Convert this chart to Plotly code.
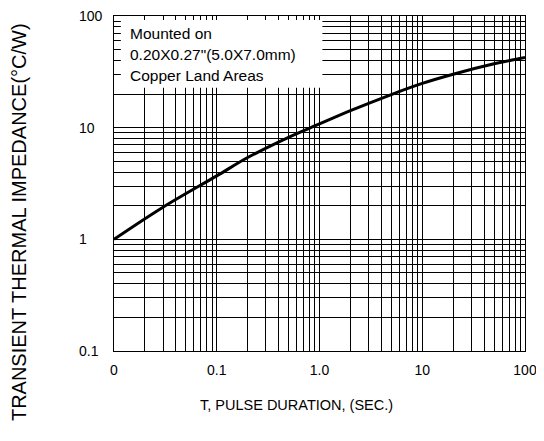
import math
import plotly.graph_objects as go

# Data (transient thermal impedance curve)
pulse_duration = [0.01, 0.03, 0.1, 0.2, 0.5, 1.0, 2.0, 5.0, 10.0, 20.0, 50.0, 100.0]
impedance = [1.0, 1.94, 3.7, 5.4, 8.2, 10.8, 14.2, 19.8, 24.9, 30.1, 37.3, 42.5]

x_tick_vals = [0.01, 0.1, 1.0, 10.0, 100.0]
x_tick_text = ["0", "0.1", "1.0", "10", "100"]
y_tick_vals = [0.1, 1.0, 10.0, 100.0]
y_tick_text = ["0.1", "1", "10", "100"]

box_lines = ["Mounted on", "0.20X0.27\"(5.0X7.0mm)", "Copper Land Areas"]

FONT = "Liberation Sans, Arial, sans-serif"

x_minor = [m * 10.0 ** e for e in range(-2, 2) for m in range(2, 10)]
y_minor = [m * 10.0 ** e for e in range(-1, 2) for m in range(2, 10)]

fig = go.Figure()
fig.add_trace(go.Scatter(
    x=pulse_duration, y=impedance, mode="lines",
    line=dict(color="black", width=3, shape="spline", smoothing=1.0),
    hoverinfo="skip", showlegend=False,
))

axis_common = dict(
    type="log", showline=True, linecolor="black", linewidth=1, mirror="ticks",
    ticks="inside", ticklen=6, tickcolor="black",
    showgrid=True, gridcolor="black", gridwidth=1, zeroline=False,
)

fig.update_xaxes(
    **axis_common,
    range=[-2, 2], tickvals=x_tick_vals, ticktext=x_tick_text,
    tickfont=dict(family=FONT, size=14, color="black"),
    ticklabelstandoff=6,
    minor=dict(tickvals=x_minor, showgrid=True, gridcolor="black", gridwidth=1,
               ticks="inside", ticklen=6, tickcolor="black"),
)
fig.update_yaxes(
    **axis_common,
    range=[-1, 2], tickvals=y_tick_vals, showticklabels=False,
    minor=dict(tickvals=y_minor, showgrid=True, gridcolor="black", gridwidth=1,
               ticks="inside", ticklen=7, tickcolor="black"),
)

annotations = []
for v, t in zip(y_tick_vals, y_tick_text):
    annotations.append(dict(
        x=0, xref="paper", xshift=-37, xanchor="left",
        y=math.log10(v), yref="y", yanchor="middle",
        text=t, showarrow=False, font=dict(family=FONT, size=14, color="black"),
    ))

for i, t in enumerate(box_lines):
    annotations.append(dict(
        x=0.033, xref="paper", xanchor="left",
        y=0.948 - i * 0.063, yref="paper", yanchor="middle",
        text=t, showarrow=False, font=dict(family=FONT, size=15.5, color="black"),
    ))

annotations.append(dict(
    x=0.443, xref="paper", xanchor="center",
    y=-0.161, yref="paper", yanchor="middle",
    text="T, PULSE DURATION, (SEC.)", showarrow=False,
    font=dict(family=FONT, size=14.5, color="black"),
))
annotations.append(dict(
    x=-0.231, xref="paper", xanchor="center",
    y=0.385, yref="paper", yanchor="middle", textangle=-90,
    text="TRANSIENT THERMAL IMPEDANCE(°C/W)", showarrow=False,
    font=dict(family=FONT, size=20, color="black"),
))

# the page body adds an 8px margin, so the figure is 8px smaller than the window
fig.update_layout(
    width=536, height=433,
    margin=dict(l=106, r=12, t=7, b=90),
    paper_bgcolor="white", plot_bgcolor="white",
    annotations=annotations,
    shapes=[dict(
        type="rect", xref="paper", yref="paper",
        x0=0.0167, x1=0.507, y0=0.786, y1=0.988,
        fillcolor="white", line=dict(width=0), layer="above",
    )],
)

fig.write_html("out.html")
